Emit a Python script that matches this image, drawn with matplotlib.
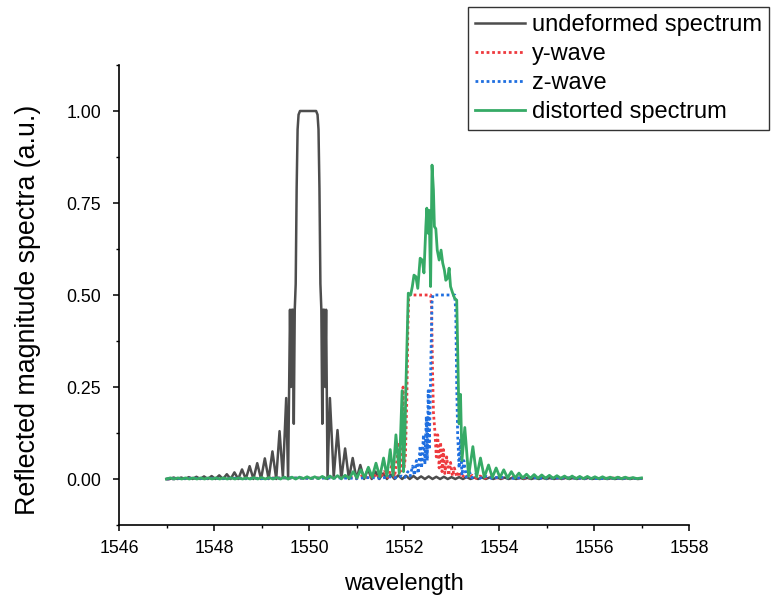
import matplotlib
matplotlib.use("Agg")
import matplotlib.pyplot as plt
from matplotlib.ticker import MultipleLocator, FormatStrFormatter

plt.rcParams['font.family'] = ['Liberation Sans', 'DejaVu Sans']

# undeformed spectrum
wl_und = [1547.00, 1547.07, 1547.15, 1547.23, 1547.31, 1547.39, 1547.47, 1547.55, 1547.63, 1547.71,
          1547.79, 1547.87, 1547.95, 1548.03, 1548.11, 1548.19, 1548.27, 1548.35, 1548.43, 1548.51,
          1548.59, 1548.67, 1548.75, 1548.83, 1548.91, 1548.99, 1549.07, 1549.15, 1549.23, 1549.31,
          1549.38, 1549.45, 1549.52, 1549.56, 1549.60, 1549.62, 1549.64, 1549.66, 1549.68, 1549.70,
          1549.72, 1549.74, 1549.76, 1549.78, 1549.81, 1550.15, 1550.18, 1550.20, 1550.22, 1550.24,
          1550.26, 1550.28, 1550.30, 1550.32, 1550.34, 1550.36, 1550.39, 1550.44, 1550.52, 1550.60,
          1550.68, 1550.76, 1550.84, 1550.92, 1551.00, 1551.08, 1551.16, 1551.24, 1551.32, 1551.40,
          1551.48, 1551.56, 1551.64, 1551.72, 1551.80, 1551.88, 1551.96, 1552.04, 1552.12, 1552.20,
          1552.28, 1552.36, 1552.44, 1552.52, 1552.60, 1552.68, 1552.76, 1552.84, 1552.92, 1553.00,
          1553.08, 1553.16, 1553.24, 1553.32, 1553.40, 1553.48, 1553.56, 1553.64, 1553.72, 1553.80,
          1553.88, 1553.96, 1554.04, 1554.12, 1554.20, 1554.28, 1554.36, 1554.44, 1554.52, 1554.60,
          1554.68, 1554.76, 1554.84, 1554.92, 1555.00, 1555.08, 1555.16, 1555.24, 1555.32, 1555.40,
          1555.48, 1555.56, 1555.64, 1555.72, 1555.80, 1555.88, 1555.96, 1556.04, 1556.12, 1556.20,
          1556.28, 1556.36, 1556.44, 1556.52, 1556.60, 1556.68, 1556.76, 1556.84, 1556.92, 1557.00]
r_und = [0.000, 0.000, 0.004, 0.000, 0.004, 0.000, 0.005, 0.000, 0.006, 0.000,
         0.007, 0.000, 0.008, 0.000, 0.010, 0.000, 0.013, 0.000, 0.018, 0.000,
         0.026, 0.000, 0.035, 0.000, 0.043, 0.000, 0.056, 0.000, 0.075, 0.000,
         0.130, 0.005, 0.220, 0.000, 0.460, 0.250, 0.460, 0.460, 0.150, 0.460,
         0.530, 0.790, 0.950, 0.990, 1.000, 1.000, 0.990, 0.950, 0.790, 0.530,
         0.460, 0.150, 0.460, 0.460, 0.250, 0.460, 0.000, 0.220, 0.005, 0.133,
         0.000, 0.083, 0.000, 0.057, 0.000, 0.038, 0.000, 0.027, 0.000, 0.020,
         0.000, 0.015, 0.000, 0.012, 0.000, 0.010, 0.000, 0.009, 0.000, 0.008,
         0.000, 0.007, 0.000, 0.007, 0.000, 0.006, 0.000, 0.006, 0.000, 0.005,
         0.000, 0.005, 0.000, 0.005, 0.000, 0.004, 0.000, 0.004, 0.000, 0.004,
         0.000, 0.004, 0.000, 0.004, 0.000, 0.003, 0.000, 0.003, 0.000, 0.003,
         0.000, 0.003, 0.000, 0.003, 0.000, 0.003, 0.000, 0.003, 0.000, 0.003,
         0.000, 0.003, 0.000, 0.003, 0.000, 0.003, 0.000, 0.002, 0.000, 0.002,
         0.000, 0.002, 0.000, 0.002, 0.000, 0.002, 0.000, 0.002, 0.000, 0.001]

# y-wave
wl_y = [1547.00, 1547.50, 1548.00, 1548.50, 1549.00, 1549.50, 1550.00, 1550.50, 1550.80, 1551.00,
        1551.10, 1551.18, 1551.26, 1551.34, 1551.42, 1551.50, 1551.58, 1551.66, 1551.74, 1551.80,
        1551.86, 1551.90, 1551.92, 1551.95, 1551.98, 1552.00, 1552.03, 1552.06, 1552.08, 1552.10,
        1552.30, 1552.56, 1552.58, 1552.60, 1552.62, 1552.65, 1552.68, 1552.71, 1552.74, 1552.77,
        1552.80, 1552.83, 1552.86, 1552.90, 1552.94, 1552.98, 1553.02, 1553.06, 1553.11, 1553.16,
        1553.22, 1553.28, 1553.36, 1553.44, 1553.52, 1553.60, 1553.70, 1553.80, 1554.00, 1554.20,
        1554.50, 1554.80, 1555.20, 1555.60, 1556.00, 1556.50, 1557.00]
r_y = [0.000, 0.002, 0.001, 0.002, 0.002, 0.003, 0.002, 0.004, 0.005, 0.003,
       0.008, 0.002, 0.010, 0.002, 0.014, 0.003, 0.020, 0.004, 0.035, 0.005,
       0.060, 0.100, 0.020, 0.080, 0.250, 0.030, 0.060, 0.220, 0.400, 0.500,
       0.500, 0.500, 0.470, 0.300, 0.180, 0.130, 0.060, 0.120, 0.030, 0.100,
       0.020, 0.080, 0.015, 0.060, 0.010, 0.045, 0.008, 0.030, 0.006, 0.020,
       0.004, 0.013, 0.003, 0.010, 0.002, 0.008, 0.002, 0.006, 0.002, 0.005,
       0.002, 0.004, 0.002, 0.003, 0.001, 0.003, 0.001]

# z-wave
wl_z = [1547.00, 1547.50, 1548.00, 1548.50, 1549.00, 1549.50, 1550.00, 1550.50, 1551.00, 1551.30,
        1551.50, 1551.70, 1551.85, 1551.95, 1552.02, 1552.08, 1552.13, 1552.18, 1552.22, 1552.26,
        1552.30, 1552.34, 1552.37, 1552.41, 1552.44, 1552.47, 1552.49, 1552.51, 1552.53, 1552.55,
        1552.57, 1552.59, 1552.61, 1552.90, 1553.07, 1553.09, 1553.11, 1553.13, 1553.16, 1553.19,
        1553.22, 1553.26, 1553.31, 1553.36, 1553.43, 1553.50, 1553.60, 1553.70, 1553.85, 1554.00,
        1554.30, 1554.60, 1555.00, 1555.50, 1556.00, 1556.50, 1557.00]
r_z = [0.000, 0.002, 0.001, 0.002, 0.001, 0.003, 0.002, 0.003, 0.002, 0.004,
       0.002, 0.006, 0.003, 0.008, 0.004, 0.020, 0.008, 0.035, 0.010, 0.050,
       0.015, 0.090, 0.030, 0.120, 0.040, 0.170, 0.050, 0.240, 0.080, 0.200,
       0.350, 0.480, 0.500, 0.500, 0.500, 0.450, 0.250, 0.120, 0.030, 0.110,
       0.010, 0.050, 0.005, 0.025, 0.003, 0.012, 0.002, 0.008, 0.002, 0.005,
       0.002, 0.004, 0.002, 0.003, 0.001, 0.002, 0.001]

# distorted spectrum
wl_d = [1547.00, 1547.08, 1547.16, 1547.24, 1547.32, 1547.40, 1547.48, 1547.56, 1547.64, 1547.72,
        1547.80, 1547.88, 1547.96, 1548.04, 1548.12, 1548.20, 1548.28, 1548.36, 1548.44, 1548.52,
        1548.60, 1548.68, 1548.76, 1548.84, 1548.92, 1549.00, 1549.08, 1549.16, 1549.24, 1549.32,
        1549.40, 1549.48, 1549.56, 1549.64, 1549.72, 1549.80, 1549.88, 1549.96, 1550.04, 1550.12,
        1550.20, 1550.28, 1550.36, 1550.44, 1550.52, 1550.60, 1550.68, 1550.76, 1550.85, 1550.93,
        1551.01, 1551.09, 1551.17, 1551.25, 1551.33, 1551.41, 1551.49, 1551.57, 1551.64, 1551.71,
        1551.77, 1551.83, 1551.90, 1551.96, 1551.99, 1552.02, 1552.04, 1552.06, 1552.09, 1552.14,
        1552.175, 1552.21, 1552.25, 1552.29, 1552.34, 1552.385, 1552.42, 1552.46, 1552.48, 1552.505,
        1552.53, 1552.56, 1552.59, 1552.62, 1552.64, 1552.67, 1552.70, 1552.74, 1552.78, 1552.815,
        1552.85, 1552.88, 1552.92, 1552.95, 1552.98, 1553.025, 1553.07, 1553.11, 1553.13, 1553.16,
        1553.19, 1553.22, 1553.28, 1553.36, 1553.45, 1553.53, 1553.61, 1553.69, 1553.78, 1553.86,
        1553.94, 1554.02, 1554.10, 1554.18, 1554.26, 1554.34, 1554.42, 1554.50, 1554.58, 1554.66,
        1554.74, 1554.82, 1554.90, 1554.98, 1555.06, 1555.14, 1555.22, 1555.30, 1555.38, 1555.46,
        1555.54, 1555.62, 1555.70, 1555.78, 1555.86, 1555.94, 1556.02, 1556.10, 1556.18, 1556.26,
        1556.34, 1556.42, 1556.50, 1556.58, 1556.66, 1556.74, 1556.82, 1556.90, 1557.00]
r_d = [0.000, 0.003, 0.000, 0.003, 0.000, 0.003, 0.000, 0.003, 0.000, 0.003,
       0.000, 0.003, 0.000, 0.003, 0.000, 0.003, 0.000, 0.003, 0.000, 0.003,
       0.000, 0.003, 0.000, 0.004, 0.000, 0.004, 0.000, 0.004, 0.000, 0.004,
       0.000, 0.005, 0.000, 0.005, 0.000, 0.005, 0.001, 0.006, 0.001, 0.006,
       0.001, 0.007, 0.001, 0.008, 0.001, 0.009, 0.001, 0.010, 0.002, 0.020,
       0.003, 0.025, 0.004, 0.032, 0.005, 0.043, 0.006, 0.057, 0.008, 0.080,
       0.010, 0.120, 0.015, 0.240, 0.020, 0.120, 0.250, 0.351, 0.505, 0.500,
       0.523, 0.554, 0.550, 0.518, 0.600, 0.595, 0.560, 0.686, 0.736, 0.668,
       0.730, 0.523, 0.853, 0.785, 0.686, 0.680, 0.622, 0.595, 0.622, 0.587,
       0.568, 0.540, 0.546, 0.573, 0.523, 0.505, 0.490, 0.486, 0.350, 0.150,
       0.230, 0.050, 0.140, 0.008, 0.088, 0.006, 0.057, 0.005, 0.038, 0.004,
       0.030, 0.004, 0.025, 0.003, 0.020, 0.003, 0.016, 0.003, 0.013, 0.002,
       0.012, 0.002, 0.011, 0.002, 0.010, 0.002, 0.009, 0.002, 0.008, 0.001,
       0.008, 0.001, 0.007, 0.001, 0.007, 0.001, 0.006, 0.001, 0.006, 0.001,
       0.005, 0.001, 0.005, 0.001, 0.005, 0.001, 0.004, 0.001, 0.003]

labels = ['undeformed spectrum', 'y-wave', 'z-wave', 'distorted spectrum']
x_ticks = [1546, 1548, 1550, 1552, 1554, 1556, 1558]
y_ticks = [0.0, 0.25, 0.5, 0.75, 1.0]

fig = plt.figure(figsize=(7.72, 6.02), dpi=100)
ax = fig.add_axes([119 / 772, 1 - 525 / 602, 570 / 772, 460 / 602])

ax.plot(wl_und, r_und, color='#4d4d4d', lw=1.8, label=labels[0])
ax.plot(wl_y, r_y, color='#ee3a3e', lw=2.0, ls=(0, (1, 1)), label=labels[1])
ax.plot(wl_z, r_z, color='#1f6fe0', lw=2.0, ls=(0, (1, 1)), label=labels[2])
ax.plot(wl_d, r_d, color='#36aa66', lw=2.0, label=labels[3])

ax.set_xlim(1546, 1558)
ax.set_ylim(-0.125, 1.125)
ax.set_xticks(x_ticks)
ax.set_yticks(y_ticks)
ax.xaxis.set_minor_locator(MultipleLocator(1))
ax.yaxis.set_minor_locator(MultipleLocator(0.125))
ax.yaxis.set_major_formatter(FormatStrFormatter('%.2f'))

for s in ['top', 'right']:
    ax.spines[s].set_visible(False)
for s in ['left', 'bottom']:
    ax.spines[s].set_linewidth(1.2)

ax.tick_params(which='major', direction='out', length=4.5, width=1.1, labelsize=12.8)
ax.tick_params(axis='x', which='major', pad=6)
ax.tick_params(axis='y', which='major', pad=8.5)
ax.tick_params(which='minor', direction='out', length=2.5, width=1.0)

ax.set_xlabel('wavelength', fontsize=17)
ax.set_ylabel('Reflected magnitude spectra (a.u.)', fontsize=19.3)
ax.xaxis.set_label_coords(0.5, -0.104)
ax.yaxis.set_label_coords(-0.137, 0.468)

leg = fig.legend(loc='upper right', bbox_to_anchor=(769 / 772, 1 - 7 / 602), fontsize=17,
                 frameon=True, fancybox=False, borderpad=0.3, labelspacing=0.3,
                 handlelength=2.1, handletextpad=0.3, borderaxespad=0)
leg.get_frame().set_edgecolor('black')
leg.get_frame().set_linewidth(1.0)

fig.savefig('out.png', dpi=100)
